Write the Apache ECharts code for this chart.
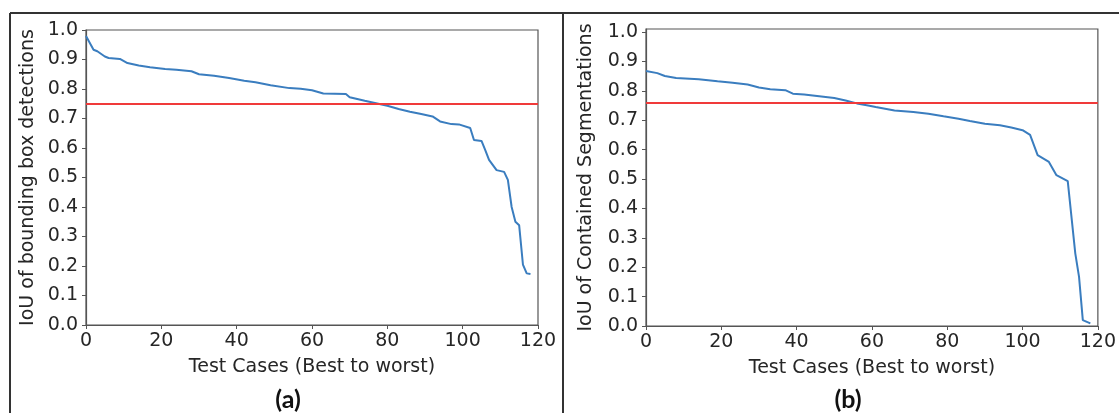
<!DOCTYPE html>
<html>
<head>
<meta charset="utf-8">
<title>IoU per test case</title>
<script src="https://cdn.jsdelivr.net/npm/echarts@6/dist/echarts.min.js"></script>
<style>
  html, body { margin: 0; padding: 0; background: #fff; }
  #chart { width: 1119px; height: 413px; }
</style>
</head>
<body>
<div id="chart"></div>
<script>
// Test case rank (best to worst) and IoU, panel (a): bounding box detections
const boxCases = [0, 2, 3, 5, 6, 9, 11, 14, 17, 21, 24, 28, 30, 34, 38, 42, 45, 49, 54, 57, 60, 63, 69, 70, 74, 77, 80, 83, 86, 89, 92, 94, 97, 99, 102, 103, 105, 106, 107, 109, 111, 112, 113, 114, 115, 116, 117, 118];
const boxIoU = [0.98, 0.933, 0.928, 0.91, 0.905, 0.902, 0.888, 0.880, 0.874, 0.868, 0.865, 0.860, 0.850, 0.845, 0.837, 0.828, 0.823, 0.813, 0.803, 0.801, 0.796, 0.785, 0.783, 0.772, 0.760, 0.752, 0.743, 0.732, 0.723, 0.715, 0.707, 0.690, 0.681, 0.680, 0.668, 0.627, 0.624, 0.593, 0.560, 0.525, 0.519, 0.492, 0.40, 0.350, 0.338, 0.205, 0.175, 0.173];

// Panel (b): contained segmentations
const segCases = [0, 3, 5, 8, 14, 19, 23, 27, 30, 33, 37, 39, 42, 46, 50, 53, 56, 59, 61, 66, 71, 75, 79, 83, 86, 90, 94, 97, 100, 102, 104, 106, 107, 109, 112, 114, 115, 116, 118];
const segIoU = [0.867, 0.860, 0.850, 0.843, 0.839, 0.832, 0.827, 0.821, 0.811, 0.805, 0.802, 0.790, 0.787, 0.781, 0.775, 0.767, 0.757, 0.750, 0.745, 0.733, 0.728, 0.722, 0.713, 0.705, 0.697, 0.688, 0.683, 0.675, 0.666, 0.650, 0.581, 0.566, 0.558, 0.513, 0.493, 0.247, 0.167, 0.020, 0.009];

// Threshold lines
const boxThreshold = 0.75;
const segThreshold = 0.755;

// Axis ticks and labels
const xTicks = [0, 20, 40, 60, 80, 100, 120];
const yTicks = [0, 0.1, 0.2, 0.3, 0.4, 0.5, 0.6, 0.7, 0.8, 0.9, 1.0];
const xTitle = 'Test Cases (Best to worst)';
const yTitles = ['IoU of bounding box detections', 'IoU of Contained Segmentations'];
const panelLabels = ['(a)', '(b)'];

const TEXT = '#262626';
const SPINE = '#555';
const BLUE = '#3a7dbf';
const RED = '#f03a3a';
const FONT = 'DejaVu Sans';
const FS = 19;

const pairs = (xs, ys) => xs.map((x, i) => [x, ys[i]]);

function xAxis(gridIndex) {
  return {
    type: 'value', gridIndex, min: 0, max: 120,
    name: xTitle, nameLocation: 'middle', nameGap: 33,
    nameTextStyle: { fontFamily: FONT, fontSize: FS, color: TEXT },
    axisLine: { show: true, onZero: false, lineStyle: { color: SPINE, width: 1.2 } },
    axisTick: { show: true, inside: false, length: 4, customValues: xTicks, lineStyle: { color: SPINE } },
    axisLabel: { customValues: xTicks, fontFamily: FONT, fontSize: FS, color: TEXT, margin: 7 },
    splitLine: { show: false }
  };
}

function yAxis(gridIndex, max, gap) {
  return {
    type: 'value', gridIndex, min: 0, max,
    name: yTitles[gridIndex], nameLocation: 'middle', nameGap: gap, nameRotate: 90,
    nameTextStyle: { fontFamily: FONT, fontSize: FS, color: TEXT },
    axisLine: { show: true, onZero: false, lineStyle: { color: SPINE, width: 1.2 } },
    axisTick: { show: true, inside: false, length: 4, customValues: yTicks, lineStyle: { color: SPINE } },
    axisLabel: { customValues: yTicks, formatter: v => v.toFixed(1), fontFamily: FONT, fontSize: FS, color: TEXT, margin: 8 },
    splitLine: { show: false }
  };
}

function curve(i, data, threshold) {
  return {
    type: 'line', xAxisIndex: i, yAxisIndex: i, data,
    showSymbol: false, symbol: 'none', silent: true,
    lineStyle: { color: BLUE, width: 2 },
    markLine: {
      silent: true, symbol: 'none', label: { show: false },
      lineStyle: { color: RED, width: 2, type: 'solid' },
      data: [{ yAxis: threshold }]
    }
  };
}

const chart = echarts.init(document.getElementById('chart'), null, { renderer: 'canvas' });
chart.setOption({
  animation: false,
  backgroundColor: '#fff',
  grid: [
    { left: 86, top: 30, width: 452, height: 295, show: true, borderColor: SPINE, borderWidth: 1.2, backgroundColor: 'transparent' },
    { left: 646, top: 29, width: 457, height: 297, show: true, borderColor: SPINE, borderWidth: 1.2, backgroundColor: 'transparent' }
  ],
  xAxis: [xAxis(0), xAxis(1)],
  yAxis: [yAxis(0, 1.0, 48), yAxis(1, 1.01, 50)],
  series: [
    curve(0, pairs(boxCases, boxIoU), boxThreshold),
    curve(1, pairs(segCases, segIoU), segThreshold)
  ],
  graphic: [
    // figure frame with the divider between the two panels
    { type: 'line', shape: { x1: 10, y1: 13, x2: 1119, y2: 13 }, style: { stroke: '#333', lineWidth: 2 } },
    { type: 'line', shape: { x1: 10, y1: 13, x2: 10, y2: 413 }, style: { stroke: '#333', lineWidth: 2 } },
    { type: 'line', shape: { x1: 563, y1: 13, x2: 563, y2: 413 }, style: { stroke: '#333', lineWidth: 2 } },
    { type: 'text', x: 288, y: 400, style: { text: panelLabels[0], fontFamily: 'Lato', fontWeight: 'bold', fontSize: 25, fill: '#111', align: 'center', verticalAlign: 'middle' } },
    { type: 'text', x: 848, y: 400, style: { text: panelLabels[1], fontFamily: 'Lato', fontWeight: 'bold', fontSize: 25, fill: '#111', align: 'center', verticalAlign: 'middle' } }
  ]
});
</script>
</body>
</html>
